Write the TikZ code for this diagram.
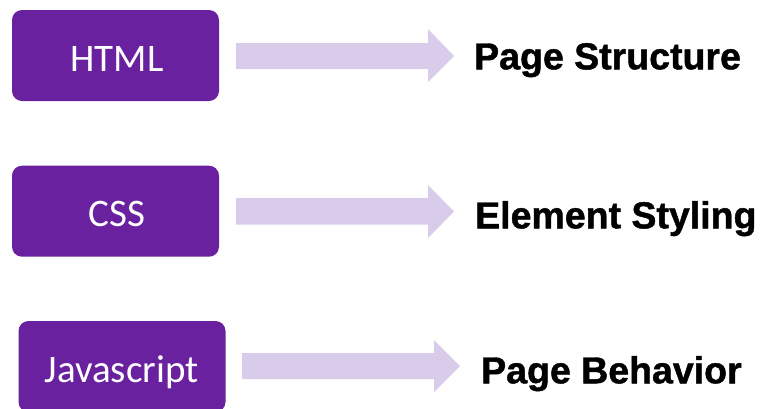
\documentclass[tikz,border=0pt]{standalone}
\usepackage{fontspec}
\setmainfont{Carlito}
\newfontfamily\boldlab[BoldFeatures={FakeBold=1.2}]{Liberation Sans}
\definecolor{boxpurple}{HTML}{6A21A0}
\definecolor{arrowlilac}{HTML}{D8CCEA}
\tikzset{
  langbox/.style={draw=none, fill=boxpurple, rounded corners=10pt, minimum width=207pt, minimum height=91pt, inner sep=0pt},
  langtext/.style={text=white, anchor=base, inner sep=0pt, font=\fontsize{39}{44}\selectfont},
  fatarrow/.style={fill=arrowlilac, draw=none},
  rolelabel/.style={anchor=base west, inner sep=0pt, font=\boldlab\bfseries\fontsize{37.5}{42}\selectfont}
}
\begin{document}
\begin{tikzpicture}[x=1pt,y=-1pt]
\useasboundingbox (0,0) rectangle (761,408);
\clip (0,0) rectangle (761,408);
% boxes
\node[langbox] (html) at (115.5,55.5) {};
\node[langtext] (htmlt) at (117,71.7) {HTML};
\node[langbox] (css) at (115.5,211.2) {};
\node[langtext] (csst) at (117,226.7) {CSS};
\node[langbox] (js) at (122,366.5) {};
\node[langtext] (jst) at (121.5,382) {Javascript};
% arrows
\fill[fatarrow] (236,43) -- (428,43) -- (428,29) -- (454,56) -- (428,82) -- (428,69) -- (236,69) -- cycle;
\fill[fatarrow] (236,198) -- (428,198) -- (428,185) -- (454,211.5) -- (428,238) -- (428,224.5) -- (236,224.5) -- cycle;
\fill[fatarrow] (242,353) -- (434,353) -- (434,340) -- (460,366) -- (434,392) -- (434,379) -- (242,379) -- cycle;
% labels
\node[rolelabel] (ps) at (474,69.3) {Page Structure};
\node[rolelabel] (es) at (475,228.3) {Element Styling};
\node[rolelabel] (pb) at (481,383.3) {Page Behavior};
\end{tikzpicture}
\end{document}
